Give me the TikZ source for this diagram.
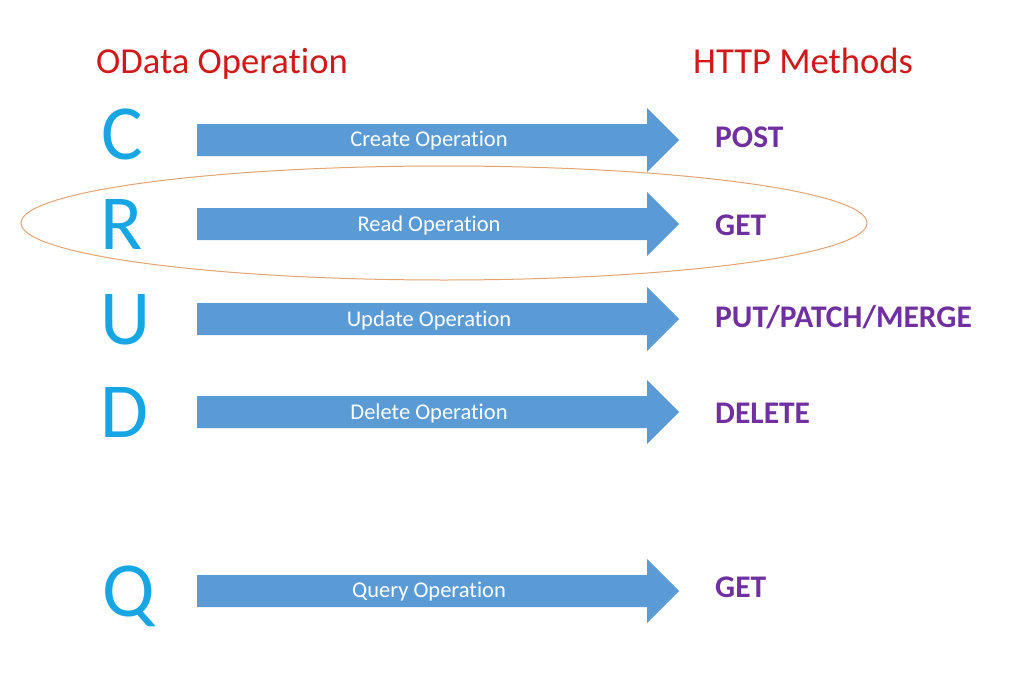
\documentclass[tikz,border=0pt]{standalone}
\usepackage{fontspec}
\setmainfont{Carlito}[Ligatures={NoCommon}]
\definecolor{arrowblue}{HTML}{5B9BD5}
\definecolor{lettercyan}{HTML}{17A6E3}
\definecolor{headred}{HTML}{D01A1A}
\definecolor{methpurple}{HTML}{7030A0}
\definecolor{ringorange}{HTML}{E2A472}
\begin{document}
\begin{tikzpicture}[x=1pt,y=-1pt,
  header/.style={text=headred,font=\fontsize{36.6}{40}\selectfont,anchor=base west,inner sep=0},
  letter/.style={text=lettercyan,font=\fontsize{78}{80}\selectfont,anchor=base,inner sep=0},
  method/.style={text=methpurple,font=\bfseries\fontsize{31.5}{34}\selectfont,anchor=base west,inner sep=0},
  oplabel/.style={text=white,font=\fontsize{22.5}{26}\selectfont,inner sep=0},
  arrowshape/.style={fill=arrowblue,draw=none}]
\useasboundingbox (0,0) rectangle (1024,685);
\fill[white] (0,0) rectangle (1024,685);

\node[header] (hodata) at (96,73) {OData Operation};
\node[header] (hhttp) at (693,73) {HTTP Methods};

\foreach \yc in {140,224,319,412,591}{
  \fill[arrowblue] (197,\yc-16) -- (647,\yc-16) -- (647,\yc-32) -- (679,\yc) -- (647,\yc+32) -- (647,\yc+16) -- (197,\yc+16) -- cycle;
}

\node[letter] (lc) at (122,159) {C};
\node[letter] (lr) at (122,249) {R};
\node[letter] (lu) at (126,344) {U};
\node[letter] (ld) at (124,437) {D};
\node[letter] (lq) at (129,616) {Q};

\node[oplabel] (oc) at (429,141) {Create Operation};
\node[oplabel] (or) at (429,225) {Read Operation};
\node[oplabel] (ou) at (429,320) {Update Operation};
\node[oplabel] (od) at (429,413) {Delete Operation};
\node[oplabel] (oq) at (429,592) {Query Operation};

\node[method] (mc) at (715,147) {POST};
\node[method] (mr) at (715,235) {GET};
\node[method] (mu) at (715,327) {PUT/PATCH/MERGE};
\node[method] (md) at (715,423) {DELETE};
\node[method] (mq) at (715,597) {GET};

\draw[ringorange,line width=1pt] (444,223) ellipse [x radius=423, y radius=57];
\end{tikzpicture}
\end{document}
